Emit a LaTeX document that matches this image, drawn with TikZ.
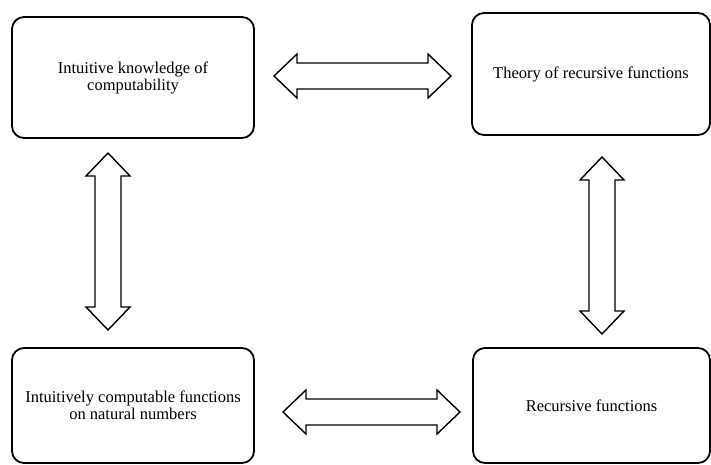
\documentclass[tikz,border=0pt]{standalone}
\usepackage{fontspec}
\setmainfont{Liberation Serif}
\begin{document}
\begin{tikzpicture}[
	x=1pt, y=-1pt,
	box/.style={
		rectangle,
		draw=black,
		line width=1.8pt,
		align=center,
		rounded corners=12pt,
		font=\fontsize{16.5}{17}\selectfont,
		minimum height=118pt,
		minimum width=240pt
	},
	link/.pic={
		\draw[line width=1.4pt, line join=miter, fill=white]
			(-88.5,0) -- (-65.5,-22) -- (-65.5,-13) -- (65.5,-13) -- (65.5,-22)
			-- (88.5,0) -- (65.5,22) -- (65.5,13) -- (-65.5,13) -- (-65.5,22) -- cycle;
	},
]
\useasboundingbox (0,0) rectangle (711,464);

\node[box, minimum height=121pt, minimum width=242pt] (intuit) at (133, 77.5) {Intuitive knowledge of\\computability};
\node[box, minimum height=122pt, minimum width=238pt] (theory) at (591, 74) {Theory of recursive functions};
\node[box, minimum height=115pt, minimum width=242pt] (natural) at (133, 405.5) {Intuitively computable functions\\on natural numbers};
\node[box, minimum height=115pt, minimum width=237pt] (recfun) at (591.5, 405.5) {Recursive functions};

\pic (top_link) at (362.5, 76) {link};
\pic (bottom_link) at (371.5, 412) {link};
\pic[rotate=90] (left_link) at (108, 241.5) {link};
\pic[rotate=90] (right_link) at (602, 245.5) {link};

\end{tikzpicture}
\end{document}
